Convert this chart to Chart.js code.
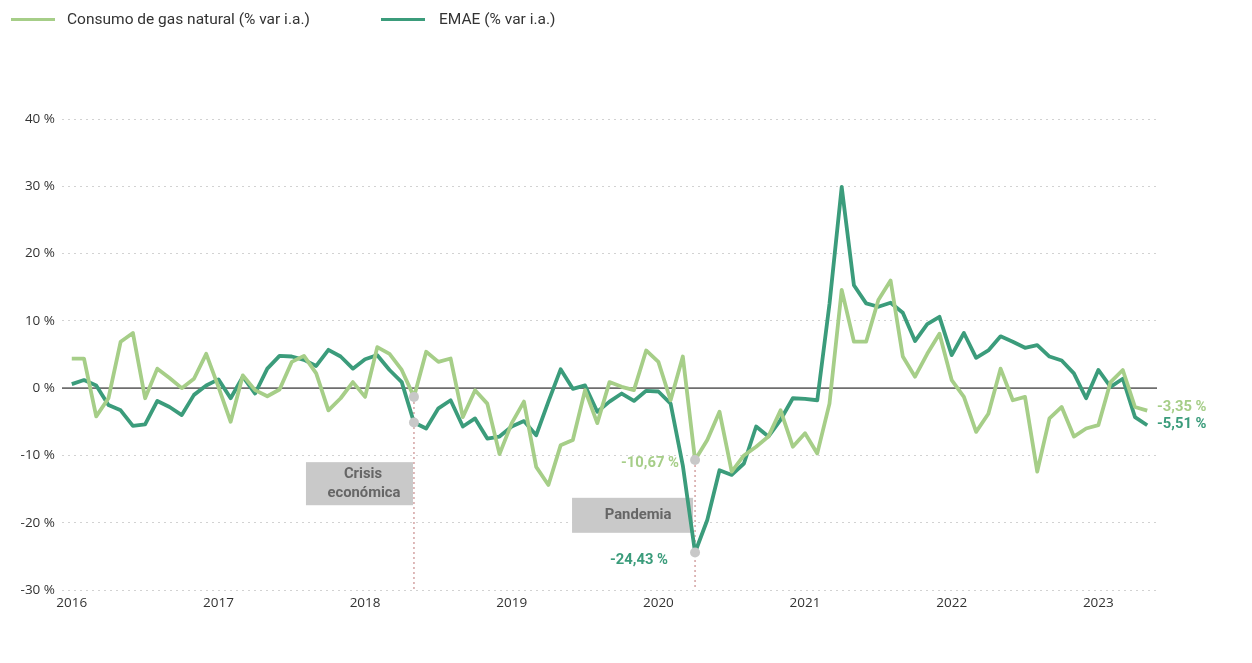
<!DOCTYPE html>
<html>
<head>
<meta charset="utf-8">
<script src="https://cdn.jsdelivr.net/npm/chart.js@4.4.1/dist/chart.umd.min.js"></script>
<style>
  html,body{margin:0;padding:0;background:#fff;}
  #wrap{position:relative;width:1252px;height:663px;}
  canvas{position:absolute;left:0;top:0;}
  .leg{position:absolute;top:9px;height:20px;font-family:Roboto,"Noto Sans",sans-serif;font-size:15.5px;color:#333;line-height:20px;white-space:nowrap;}
  .sw{position:absolute;top:18px;height:3px;}
</style>
</head>
<body>
<div id="wrap">
  <canvas id="c" width="1252" height="663"></canvas>
  <div class="sw" style="left:11px;width:44px;background:#a6ce88;"></div>
  <div class="leg" style="left:67px;">Consumo de gas natural (% var i.a.)</div>
  <div class="sw" style="left:381px;width:44px;background:#3b9c7b;"></div>
  <div class="leg" style="left:439px;">EMAE (% var i.a.)</div>
</div>
<script>
// ---- data (monthly, Jan 2016 – May 2023) ----
const yearLabels = ['2016','2017','2018','2019','2020','2021','2022','2023'];
const yTicks = [-30,-20,-10,0,10,20,30,40];

const gasConsumo = [
  4.4, 4.4, -4.2, -1.5, 6.9, 8.2, -1.5, 2.9, 1.5, 0.0, 1.4, 5.1,
  0.2, -5.0, 1.9, -0.3, -1.2, -0.2, 3.9, 4.8, 2.2, -3.3, -1.5, 0.9,
  -1.3, 6.1, 5.1, 2.7, -1.3, 5.4, 3.9, 4.4, -4.3, -0.3, -2.3, -9.8,
  -5.2, -2.0, -11.7, -14.4, -8.5, -7.7, -0.3, -5.2, 0.9, 0.2, -0.3, 5.6,
  3.9, -1.8, 4.7, -10.67, -7.7, -3.5, -12.4, -10.0, -8.7, -7.2, -3.3, -8.7,
  -6.7, -9.7, -2.3, 14.6, 6.9, 6.9, 13.1, 16.0, 4.7, 1.7, 5.1, 8.1,
  1.2, -1.3, -6.5, -3.8, 2.9, -1.8, -1.3, -12.4, -4.5, -2.8, -7.2, -6.0,
  -5.5, 0.9, 2.7, -2.8, -3.35
];
const emae = [
  0.6, 1.2, 0.4, -2.5, -3.3, -5.6, -5.4, -1.9, -2.8, -4.0, -1.0, 0.4,
  1.3, -1.5, 1.7, -0.8, 2.9, 4.8, 4.7, 4.2, 3.3, 5.7, 4.7, 2.9,
  4.3, 4.9, 2.7, 0.9, -5.1, -6.0, -3.0, -1.8, -5.7, -4.5, -7.5, -7.2,
  -5.7, -4.9, -7.0, -2.0, 2.8, -0.1, 0.4, -3.5, -2.0, -0.8, -1.9, -0.4,
  -0.5, -2.3, -11.5, -24.43, -19.6, -12.2, -12.9, -11.2, -5.7, -7.2, -4.7, -1.5,
  -1.6, -1.8, 12.5, 29.9, 15.3, 12.6, 12.1, 12.7, 11.2, 7.0, 9.5, 10.6,
  4.9, 8.2, 4.5, 5.6, 7.7, 6.9, 6.0, 6.4, 4.7, 4.1, 2.2, -1.5,
  2.7, 0.2, 1.4, -4.3, -5.51
];
// events: index of month
const crisisIdx = 28;   // May 2018
const pandemiaIdx = 51; // Apr 2020

const GAS_C = '#a6ce88';
const EMAE_C = '#3b9c7b';
const toPts = arr => arr.map((v,i)=>({x:i,y:v}));
const fmt = v => v.toFixed(2).replace('.',',') + ' %';
const BOLD = 'bold 14.8px Roboto, "Noto Sans", sans-serif';

const annot = {
  id:'annot',
  beforeDatasetsDraw(chart){
    const {ctx, chartArea:ca, scales:{x,y}} = chart;
    ctx.save();
    const y0 = y.getPixelForValue(0);
    ctx.strokeStyle = '#6e6e6e'; ctx.lineWidth = 1.6;
    ctx.beginPath(); ctx.moveTo(ca.left, y0); ctx.lineTo(ca.right, y0); ctx.stroke();
    ctx.strokeStyle = '#c98c8c'; ctx.lineWidth = 1.2; ctx.setLineDash([2,3]);
    [crisisIdx, pandemiaIdx].forEach(i=>{
      const xp = x.getPixelForValue(i);
      ctx.beginPath(); ctx.moveTo(xp, y.getPixelForValue(gasConsumo[i])); ctx.lineTo(xp, ca.bottom); ctx.stroke();
    });
    ctx.setLineDash([]);
    ctx.fillStyle = '#c9c9c9';
    const xc = x.getPixelForValue(crisisIdx);
    const cTop = y.getPixelForValue(-11.0), cBot = y.getPixelForValue(-17.4);
    ctx.fillRect(xc-108, cTop, 107, cBot-cTop);
    const xpn = x.getPixelForValue(pandemiaIdx);
    const pTop = y.getPixelForValue(-16.3), pBot = y.getPixelForValue(-21.5);
    ctx.fillRect(xpn-123, pTop, 121, pBot-pTop);
    ctx.fillStyle = '#666';
    ctx.font = BOLD;
    ctx.textAlign = 'center'; ctx.textBaseline = 'middle';
    ctx.fillText('Crisis', xc-51, cTop+12);
    ctx.fillText('económica', xc-50, cTop+31);
    ctx.fillText('Pandemia', xpn-57, (pTop+pBot)/2);
    ctx.restore();
  },
  afterDatasetsDraw(chart){
    const {ctx, chartArea:ca, scales:{x,y}} = chart;
    ctx.save();
    ctx.fillStyle = '#c8c8c8';
    [[crisisIdx,gasConsumo],[crisisIdx,emae],[pandemiaIdx,gasConsumo],[pandemiaIdx,emae]].forEach(([i,arr])=>{
      ctx.beginPath(); ctx.arc(x.getPixelForValue(i), y.getPixelForValue(arr[i]), 5, 0, Math.PI*2); ctx.fill();
    });
    ctx.font = BOLD;
    ctx.textBaseline = 'middle';
    const xpn = x.getPixelForValue(pandemiaIdx);
    ctx.textAlign = 'right';
    ctx.fillStyle = GAS_C;
    ctx.fillText(fmt(gasConsumo[pandemiaIdx]), xpn-16, y.getPixelForValue(-11.1));
    ctx.fillStyle = EMAE_C;
    ctx.fillText(fmt(emae[pandemiaIdx]), xpn-27, y.getPixelForValue(-25.6));
    const last = gasConsumo.length-1;
    ctx.textAlign = 'left';
    ctx.fillStyle = GAS_C;
    ctx.fillText(fmt(gasConsumo[last]), ca.right, y.getPixelForValue(gasConsumo[last])-3);
    ctx.fillStyle = EMAE_C;
    ctx.fillText(fmt(emae[emae.length-1]), ca.right, y.getPixelForValue(emae[emae.length-1])-1);
    ctx.restore();
  }
};

new Chart(document.getElementById('c'), {
  type:'line',
  data:{
    datasets:[
      {label:'Consumo de gas natural (% var i.a.)', data:toPts(gasConsumo), borderColor:GAS_C, borderWidth:3.8, pointRadius:0, tension:0, borderJoinStyle:'round'},
      {label:'EMAE (% var i.a.)', data:toPts(emae), borderColor:EMAE_C, borderWidth:3.8, pointRadius:0, tension:0, borderJoinStyle:'round'}
    ]
  },
  options:{
    responsive:false, animation:false, devicePixelRatio:1,
    layout:{padding:{left:0,right:95,top:119,bottom:0}},
    plugins:{legend:{display:false}, tooltip:{enabled:false}},
    scales:{
      x:{
        type:'linear', min:-0.8, max:88.8,
        grid:{display:false}, border:{display:false},
        afterBuildTicks(s){ s.ticks = yearLabels.map((_,k)=>({value:k*12})); },
        afterFit(s){ s.height = 73; },
        ticks:{
          autoSkip:false, maxRotation:0, padding:-3, color:'#333',
          font:{family:'"Open Sans", Roboto, sans-serif', size:13.5},
          callback:(v)=> yearLabels[Math.round(v/12)]
        }
      },
      y:{
        min:-30, max:40,
        afterBuildTicks(s){ s.ticks = yTicks.map(v=>({value:v})); },
        afterFit(s){ s.width = 62; },
        grid:{color:'#d2d2d2', lineWidth:1, drawTicks:false},
        border:{display:false, dash:[2,4]},
        ticks:{
          padding:7, color:'#333',
          font:{family:'"Open Sans", Roboto, sans-serif', size:13.5},
          callback:(v)=> v + ' %'
        }
      }
    }
  },
  plugins:[annot]
});
</script>
</body>
</html>
